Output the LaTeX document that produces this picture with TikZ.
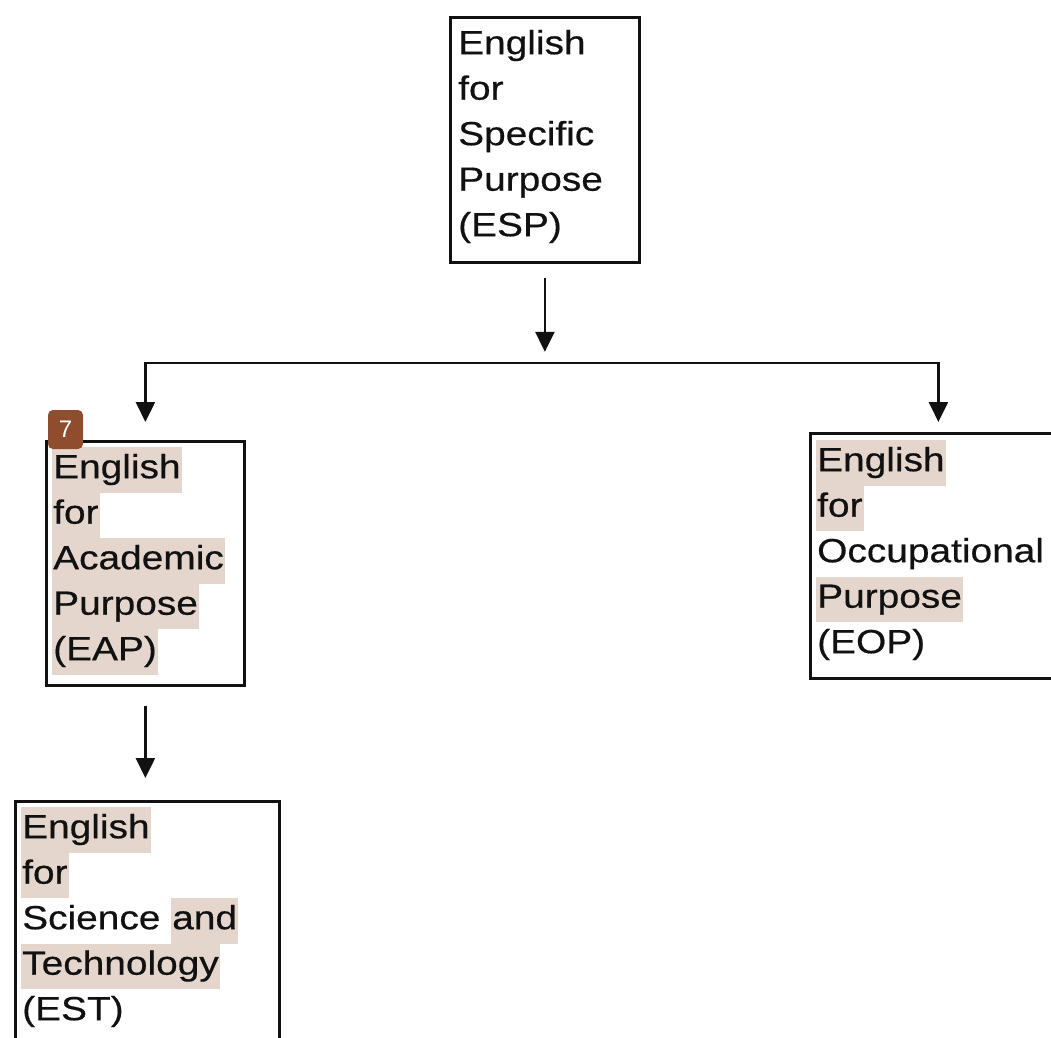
\documentclass[tikz,border=0pt]{standalone}
\usepackage{fontspec}
\usetikzlibrary{arrows.meta,calc}
% Box lettering: Arial-metric sans, slightly widened and emboldened
\newfontfamily\boxfont{Liberation Sans}[FakeStretch=1.16,FakeBold=0.5]
\newfontfamily\badgefont{Liberation Sans}
\definecolor{hlc}{RGB}{229,214,205}
\definecolor{inkc}{RGB}{17,17,17}
\definecolor{badgec}{RGB}{143,77,46}
% one text line: height 31pt, depth 14.5pt, so shaded lines abut
\newcommand\lnstrut{\rule[-14.5pt]{0pt}{45.5pt}}
\newcommand\hlw[1]{{\setlength{\fboxsep}{0pt}\colorbox{hlc}{\kern1pt\lnstrut#1\kern1pt}}}
\newcommand\plain[1]{\kern1pt\lnstrut#1}
\tikzset{
  box/.style={draw=inkc, line width=2.8pt, inner sep=0pt, anchor=north west},
  lines/.style={anchor=north west, inner sep=0pt, align=left, text=inkc,
    font=\boxfont\fontsize{33.5pt}{45.5pt}\selectfont},
  conn/.style={draw=inkc, line width=2.4pt, -{Triangle[width=19pt,length=20pt]}},
  bracket/.style={draw=inkc, line width=2.4pt,
    {Triangle[width=19pt,length=20pt]}-{Triangle[width=19pt,length=20pt]}},
  badge/.style={fill=badgec, rounded corners=5pt, minimum width=35pt,
    minimum height=39pt, inner sep=0pt, text=white,
    font=\badgefont\fontsize{24pt}{28pt}\selectfont}
}
\begin{document}
\begin{tikzpicture}[x=1pt,y=-1pt]
\useasboundingbox (0,0) rectangle (1051,1037);
\clip (0,0) rectangle (1051,1037);

% boxes
\node[box, minimum width=189pt, minimum height=245pt] (esp) at (449,16) {};
\node[box, minimum width=198pt, minimum height=244pt] (eap) at (45,440) {};
\node[box, minimum width=256pt, minimum height=245pt] (eop) at (809,432) {};
\node[box, minimum width=264pt, minimum height=300pt] (est) at (14,800) {};

% box texts
\node[lines] (espT) at (457,23) {\plain{English}\\\plain{for}\\\plain{Specific}\\\plain{Purpose}\\\plain{(ESP)}};
\node[lines] (eapT) at (52,447) {\hlw{English}\\\hlw{for}\\\hlw{Academic}\\\hlw{Purpose}\\\hlw{(EAP)}};
\node[lines] (eopT) at (816,440) {\hlw{English}\\\hlw{for}\\\plain{Occupational}\\\hlw{Purpose}\\\plain{(EOP)}};
\node[lines] (estT) at (21,807) {\hlw{English}\\\hlw{for}\\\plain{Science }\hlw{and}\\\hlw{Technology}\\\plain{(EST)}};

% connectors
\draw[conn] ($(esp.south)+(0,14)$) -- ($(esp.south)+(0,88)$);
\draw[bracket] ($(eap.north)+(0,-18)$) |- ($(eop.north)+(0,-69)$) -- ($(eop.north)+(0,-10)$);
\draw[conn] ($(eap.south)+(0,19)$) -- ($(eap.south |- est.north)+(0,-22)$);

% page marker
\node[badge] (mark7) at (65.5,429.5) {7};
\end{tikzpicture}
\end{document}
